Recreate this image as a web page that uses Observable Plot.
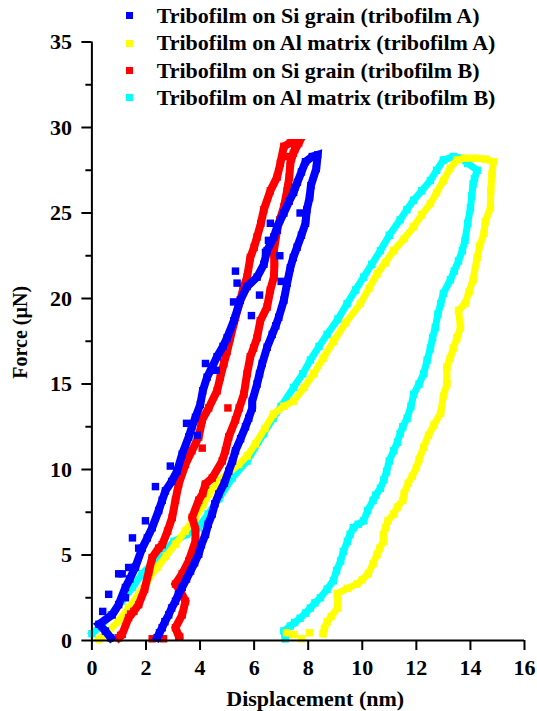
<!DOCTYPE html>
<html>
<head>
<meta charset="utf-8">
<script src="https://cdn.jsdelivr.net/npm/d3@7"></script>
<script src="https://cdn.jsdelivr.net/npm/@observablehq/plot@0.6"></script>
<style>
  body { margin: 0; background: #fff; }
  #chart { position: relative; width: 537px; height: 711px; font-family: "Liberation Serif", "Times New Roman", serif; font-weight: bold; }
  #chart svg { display: block; }
  #legend { position: absolute; left: 126px; top: 2.35px; font-size: 22px; z-index: 2; }
  .row { display: flex; align-items: center; height: 27.3px; white-space: nowrap; }
  .sw { width: 7px; height: 7px; margin-right: 23.7px; flex: none; }
</style>
</head>
<body>
<div id="chart"><div id="legend"></div></div>
<script>
// Nanoindentation load–displacement curves of the two tribofilms

const seriesNames = [
  "Tribofilm on Si grain (tribofilm A)",
  "Tribofilm on Al matrix (tribofilm A)",
  "Tribofilm on Si grain (tribofilm B)",
  "Tribofilm on Al matrix (tribofilm B)"
];
const seriesColors = ["#0000ff", "#ffff00", "#ff0000", "#00ffff"];

const xTicks = [0, 2, 4, 6, 8, 10, 12, 14, 16];
const yTicks = [0, 5, 10, 15, 20, 25, 30, 35];
const yMinorTicks = [2.5, 7.5, 12.5, 17.5, 22.5, 27.5, 32.5];
const xTitle = "Displacement (nm)";
const yTitle = "Force (\u00b5N)";

// Tribofilm A on Si grain: loading then unloading branch (nm, µN)
const siA_disp = [0.7,0.5,0.26,0.75,0.99,1.24,1.4,1.61,1.86,2.05,2.23,2.47,2.6,2.72,2.95,3.15,3.34,3.58,3.7,3.83,4.01,4.1,4.26,4.45,4.63,4.85,5.0,5.25,5.49,5.74,6.11,6.36,6.48,6.73,6.85,7.1,7.3,7.46,7.6,7.75,7.9,8.15,8.35,8.3,8.1,8.05,7.95,7.9,7.75,7.59,7.45,7.34,7.22,7.1,6.91,6.8,6.67,6.48,6.3,6.2,6.11,5.93,5.93,5.8,5.68,5.5,5.31,5.2,5.06,4.9,4.69,4.55,4.45,4.3,4.2,4.05,3.95,3.8,3.65,3.5,3.34,3.2,3.09,2.95,2.84,2.7,2.6,2.5,2.41];
const siA_force = [0.15,0.55,0.95,1.5,2.1,3.1,3.6,4.3,5.4,6.0,6.6,7.6,8.2,8.75,9.3,9.9,10.9,11.9,12.5,13.05,13.8,14.6,15.4,16.0,16.6,17.2,17.7,18.7,19.9,20.7,21.25,22.0,22.8,23.6,24.2,25.0,25.7,26.2,26.8,27.4,28.0,28.3,28.4,27.6,26.6,25.9,25.2,24.4,23.7,23.0,22.4,21.8,20.9,19.9,18.9,18.4,17.9,17.15,16.2,15.6,15.0,14.0,13.6,13.0,12.5,11.8,11.1,10.5,9.9,9.2,8.56,8.0,7.4,6.8,6.2,5.6,5.05,4.55,4.07,3.6,3.1,2.7,2.3,1.9,1.5,1.1,0.75,0.45,0.16];
// stray readings off the main branches
const siA_strayDisp = [0.4,0.62,0.99,1.12,1.36,1.24,1.73,1.98,1.5,2.35,2.9,3.5,3.9,4.2,4.6,5.31,5.37,5.24,5.9,6.2,6.42,6.53,6.6,6.86,6.95,7.0,7.5,7.7];
const siA_strayForce = [1.7,2.7,3.9,3.9,4.27,2.5,5.4,7.0,6.0,9.0,10.2,12.7,12.0,16.2,15.8,21.6,20.9,19.8,19.0,20.2,22.7,23.4,24.4,24.0,22.5,21.0,26.5,25.0];

// Tribofilm A on Al matrix
const alA_disp = [0.26,0.6,0.99,1.35,1.73,2.05,2.41,2.75,3.09,3.45,3.83,4.1,4.32,4.69,5.05,5.43,5.75,6.05,6.4,6.72,7.1,7.46,7.85,8.2,8.55,8.94,9.4,9.93,10.25,10.55,10.85,11.16,11.55,11.9,12.2,12.52,12.75,13.0,13.25,13.5,13.8,14.2,14.55,14.85,14.8,14.75,14.74,14.55,14.5,14.35,14.25,14.1,13.95,13.8,13.56,13.63,13.5,13.37,13.25,13.13,13.13,13.0,12.9,12.65,12.45,12.27,12.1,12.0,11.85,11.7,11.55,11.5,11.3,11.16,10.95,10.86,10.78,10.78,10.65,10.55,10.4,10.22,10.0,9.8,9.45,9.08,9.1,9.08,8.85,8.7,8.6,8.55];
const alA_force = [0.07,0.5,1.14,1.9,2.7,3.5,4.27,4.95,5.64,6.4,7.2,7.9,8.56,9.34,9.8,10.3,10.8,11.5,12.4,13.25,13.7,14.0,14.8,15.6,16.5,17.5,18.6,19.7,20.6,21.45,22.1,22.8,23.5,24.2,24.9,25.55,26.2,26.9,27.6,28.1,28.2,28.2,28.15,28.0,27.3,26.3,25.3,24.5,23.8,23.1,22.4,21.1,20.4,19.7,19.3,18.3,17.7,17.1,16.5,16.0,15.0,14.3,13.3,12.6,12.0,11.3,10.6,10.1,9.6,9.2,8.6,8.2,7.8,7.4,7.0,6.6,6.2,5.8,5.4,5.05,4.5,3.9,3.55,3.3,3.05,2.75,2.3,1.9,1.4,1.1,0.7,0.4];
// last readings after the load reaches zero
const alA_tailDisp = [8.05,7.75,7.45,7.2];
const alA_tailForce = [0.45,0.1,0.35,0.45];

// Tribofilm B on Si grain
const siB_disp = [0.99,1.12,1.36,1.55,1.73,1.95,2.1,2.23,2.47,2.6,2.8,2.97,3.09,3.21,3.46,3.7,3.95,4.08,4.32,4.63,4.75,4.88,5.0,5.12,5.31,5.49,5.6,5.74,5.86,6.0,6.11,6.25,6.36,6.6,6.85,6.97,7.1,7.34,7.65,7.45,7.34,7.3,7.22,7.1,6.95,6.85,6.73,6.75,6.73,6.6,6.48,6.23,6.11,5.98,5.86,5.74,5.62,5.45,5.31,5.06,4.94,4.82,4.45,4.2,4.1,3.95,3.71,3.83,3.83,3.58,3.34,3.09,3.3,3.46,3.34,3.09,3.21];
const siB_force = [0.16,0.36,1.34,1.7,2.1,3.0,4.0,4.85,5.4,5.6,6.4,7.2,8.2,9.15,10.3,11.1,11.9,12.9,13.6,14.6,15.4,16.2,16.9,17.7,18.9,19.9,20.6,21.25,22.4,23.0,23.6,24.4,25.2,26.3,27.1,27.9,28.9,29.1,29.1,28.5,27.9,27.1,26.3,25.35,24.6,24.0,22.8,22.0,21.25,20.5,19.5,18.7,17.7,17.1,16.6,15.6,14.4,13.6,12.9,11.9,11.1,10.5,9.5,9.15,8.6,8.2,7.2,6.5,5.8,4.65,3.9,3.3,2.8,2.3,1.5,0.75,0.26];
const siB_strayDisp = [1.06,1.43,2.23,2.65,3.25,4.08,5.03,4.2,7.5,7.2];
const siB_strayForce = [0.3,1.55,0.1,0.1,0.2,11.25,13.6,9.1,28.7,28.3];

// Tribofilm B on Al matrix
const alB_disp = [0.0,0.3,0.7,1.1,1.5,1.86,2.3,2.65,3.03,3.5,3.94,4.3,4.7,5.19,5.74,6.35,6.7,7.0,7.46,7.8,8.08,8.4,8.7,9.1,9.44,9.75,10.05,10.35,10.67,11.0,11.4,11.65,11.9,12.2,12.52,12.75,13.0,13.37,13.65,13.9,14.25,14.15,14.1,14.05,14.0,13.9,13.8,13.7,13.56,13.4,13.26,13.0,12.9,12.8,12.7,12.6,12.52,12.4,12.27,12.1,11.9,11.8,11.66,11.5,11.4,11.3,11.16,11.0,10.9,10.8,10.67,10.5,10.4,10.2,10.05,9.85,9.67,9.55,9.45,9.3,9.2,9.05,8.93,8.7,8.45,8.25,8.08,7.9,7.7,7.5,7.34,7.1,7.15];
const alB_force = [0.4,0.8,1.5,2.3,3.1,3.9,4.6,5.2,5.8,6.2,6.6,7.4,8.3,9.5,10.5,12.1,13.0,13.7,14.8,15.6,16.4,17.2,17.9,18.8,19.7,20.5,21.25,22.0,22.8,23.7,24.6,25.2,25.75,26.3,26.9,27.5,28.1,28.3,28.2,27.9,27.5,27.0,26.7,26.0,25.3,24.4,23.4,22.8,22.2,21.6,21.1,20.3,19.7,19.1,18.3,17.7,17.1,16.4,15.6,15.0,14.4,13.7,13.0,12.5,12.1,11.6,11.1,10.5,9.9,9.4,8.9,8.5,8.2,7.6,7.0,6.8,6.6,6.2,5.8,5.2,4.65,4.1,3.5,3.0,2.5,2.2,1.9,1.6,1.3,1.05,0.85,0.56,0.1];

const toRows = (xs, ys) => xs.map((x, i) => ({x, y: ys[i]}));

// drawing order: later entries sit on top
const layers = [
  {color: seriesColors[3], width: 7, path: toRows(alB_disp, alB_force), stray: []},
  {color: seriesColors[1], width: 7, path: toRows(alA_disp, alA_force), stray: toRows(alA_tailDisp, alA_tailForce)},
  {color: seriesColors[2], width: 8, path: toRows(siB_disp, siB_force), stray: toRows(siB_strayDisp, siB_strayForce)},
  {color: seriesColors[0], width: 8, path: toRows(siA_disp, siA_force), stray: toRows(siA_strayDisp, siA_strayForce)}
];

const dataMarks = layers.flatMap(({color, width, path, stray}) => [
  Plot.line(path, {x: "x", y: "y", stroke: color, strokeWidth: width, strokeLinejoin: "miter", strokeMiterlimit: 2, strokeLinecap: "square"}),
  Plot.dot(path, {x: "x", y: "y", fill: color, symbol: "square", r: 4.2}),
  Plot.dot(stray, {x: "x", y: "y", fill: color, symbol: "square", r: 4.2})
]);

const chart = Plot.plot({
  width: 537,
  height: 711,
  marginLeft: 91.4,
  marginRight: 13,
  marginTop: 41.5,
  marginBottom: 71,
  style: {fontFamily: '"Liberation Serif", "Times New Roman", serif', fontWeight: "bold", fontSize: "22px", background: "white", overflow: "visible"},
  x: {domain: [0, 16]},
  y: {domain: [0, 35]},
  marks: [
    ...dataMarks,
    Plot.ruleX([0], {y1: 0, y2: 35, strokeWidth: 2}),
    Plot.ruleY([0], {x1: 0, x2: 16, strokeWidth: 2}),
    Plot.axisX(xTicks, {tickSize: 10, tickPadding: 9, strokeWidth: 2, label: null, fontSize: 22}),
    Plot.axisY(yTicks, {tickSize: 10, tickPadding: 10, strokeWidth: 2, label: null, fontSize: 22}),
    Plot.axisY(yMinorTicks, {tickSize: 6, strokeWidth: 2, text: null, label: null}),
    Plot.text([xTitle], {frameAnchor: "bottom", textAnchor: "middle", lineAnchor: "middle", dx: 7, dy: 58.5, fontSize: 22}),
    Plot.text([yTitle], {frameAnchor: "left", textAnchor: "middle", lineAnchor: "middle", rotate: -90, dx: -71.4, dy: -9, fontSize: 20})
  ]
});

const holder = document.getElementById("chart");
holder.insertBefore(chart, holder.firstChild);

// legend rows: colour swatch + series name
const legend = d3.select("#legend");
seriesNames.forEach((name, i) => {
  const row = legend.append("div").attr("class", "row");
  row.append("span").attr("class", "sw").style("background", seriesColors[i]);
  row.append("span").text(name);
});
</script>
</body>
</html>
